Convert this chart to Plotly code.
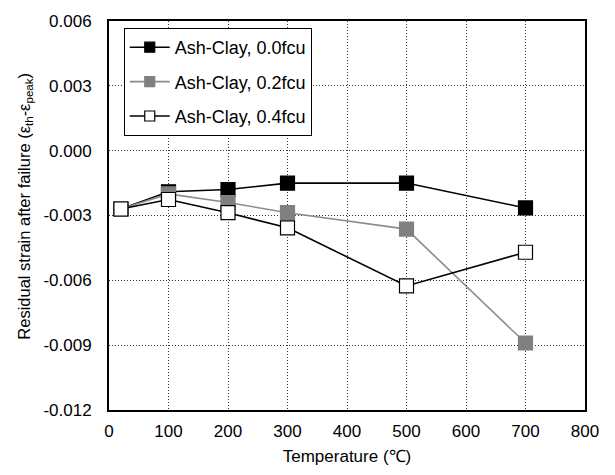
import plotly.graph_objects as go

temps = [20, 100, 200, 300, 500, 700]
s00 = [-0.0027, -0.0019, -0.0018, -0.0015, -0.0015, -0.00265]
s02 = [-0.0027, -0.0020, -0.0024, -0.00287, -0.00363, -0.0089]
s04 = [-0.0027, -0.00226, -0.00287, -0.00357, -0.00626, -0.0047]
names = ["Ash-Clay, 0.0fcu", "Ash-Clay, 0.2fcu", "Ash-Clay, 0.4fcu"]
x_ticks = [0, 100, 200, 300, 400, 500, 600, 700, 800]
y_ticks = [0.006, 0.003, 0.0, -0.003, -0.006, -0.009, -0.012]

font = "Liberation Sans, Arial, Helvetica, sans-serif"

lines = [dict(color="black", width=1.6), dict(color="#8c8c8c", width=1.6), dict(color="black", width=1.6)]
fills = ["black", "#808080", "white"]
edges = ["black", "#808080", "black"]

fig = go.Figure()
for i, (ys, nm) in enumerate(zip([s00, s02, s04], names)):
    fig.add_trace(go.Scatter(x=temps, y=ys, name=nm, mode="lines+markers", showlegend=False,
                             line=lines[i],
                             marker=dict(symbol="square", size=14, color=fills[i],
                                         line=dict(color=edges[i], width=1.2))))
# legend entries (smaller legend symbols as in the reference)
for i, nm in enumerate(names):
    fig.add_trace(go.Scatter(x=[None], y=[None], name=nm, mode="lines+markers",
                             legendgroup=str(i), line=lines[i],
                             marker=dict(symbol="square", size=10, color=fills[i],
                                         line=dict(color=edges[i], width=1.2))))

grid = dict(showgrid=True, gridcolor="#333333", griddash="1px,2px", gridwidth=1,
            showline=True, linecolor="black", linewidth=2, mirror=True,
            zeroline=False, ticks="")

fig.update_layout(
    width=615, height=475,
    margin=dict(l=109, r=30, t=16, b=64),
    plot_bgcolor="white", paper_bgcolor="white",
    font=dict(family=font, size=17, color="black"),
    showlegend=True,
    legend=dict(x=0.031, y=0.982, xanchor="left", yanchor="top",
                bordercolor="black", borderwidth=1, bgcolor="white",
                font=dict(size=18, family=font), traceorder="grouped",
                tracegroupgap=8, itemwidth=40),
    xaxis=dict(range=[0, 800], tickvals=x_ticks, ticktext=[str(v) for v in x_ticks],
               ticklabelstandoff=5,
               title=dict(text="Temperature (℃)", font=dict(size=17), standoff=10),
               tickfont=dict(size=17), **grid),
    yaxis=dict(range=[-0.012, 0.006], tickvals=y_ticks,
               ticktext=["%.3f" % v if v != 0 else "0.000" for v in y_ticks],
               ticklabelstandoff=12,
               title=dict(text="&nbsp;&nbsp;&nbsp;&nbsp;Residual strain after failure (ε<sub>th</sub>-ε<sub>peak</sub>)",
                          font=dict(size=16.5), standoff=9),
               tickfont=dict(size=17), **grid),
)
fig.write_html("out.html")
